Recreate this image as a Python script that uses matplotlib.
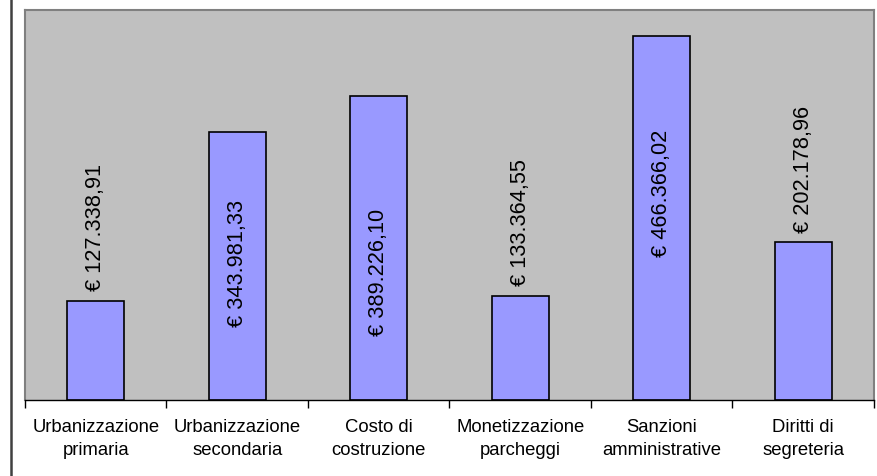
import matplotlib
matplotlib.use("Agg")
import matplotlib.pyplot as plt
from matplotlib.lines import Line2D

categories = ["Urbanizzazione\nprimaria", "Urbanizzazione\nsecondaria", "Costo di\ncostruzione",
              "Monetizzazione\nparcheggi", "Sanzioni\namministrative", "Diritti di\nsegreteria"]
values = [127338.91, 343981.33, 389226.10, 133364.55, 466366.02, 202178.96]
labels = ["€ 127.338,91", "€ 343.981,33", "€ 389.226,10", "€ 133.364,55", "€ 466.366,02", "€ 202.178,96"]
inside = [False, True, True, False, True, False]

plt.rcParams["font.family"] = ["Liberation Sans", "DejaVu Sans"]

fig = plt.figure(figsize=(8.78, 4.76), dpi=100)
ax = fig.add_axes([25 / 878, 1 - 400 / 476, 849 / 878, 390 / 476])
ax.set_facecolor("#C0C0C0")

x = list(range(len(values)))
ax.bar(x, values, width=0.4, color="#9999FF", edgecolor="black", linewidth=1.2, zorder=2)

# label centres for the ones drawn inside the bars
inside_y = {1: 175000, 2: 164000, 4: 265000}
for i, (v, lab) in enumerate(zip(values, labels)):
    if inside[i]:
        ax.text(i, inside_y[i], lab, rotation=90, ha="center", va="center",
                fontsize=15.7, zorder=3)
    else:
        ax.annotate(lab, (i, v), xytext=(0, 7), textcoords="offset points",
                    rotation=90, ha="center", va="bottom", fontsize=15.7, zorder=3)

ax.set_xlim(-0.5, len(values) - 0.5)
ax.set_ylim(0, 500000)
ax.set_yticks([])
ax.set_xticks(x)
ax.set_xticklabels(categories, fontsize=13.3, linespacing=1.45)
ax.tick_params(axis="x", which="major", length=0, pad=14)
ax.set_xticks([i - 0.5 for i in range(len(values) + 1)], minor=True)
ax.tick_params(axis="x", which="minor", length=6, width=1, color="black", direction="out")

for s in ["top", "right", "left"]:
    ax.spines[s].set_color("#808080")
    ax.spines[s].set_linewidth(1.5)
ax.spines["bottom"].set_color("black")
ax.spines["bottom"].set_linewidth(1)

fig.add_artist(Line2D([11 / 878, 11 / 878], [0, 1], color="#404040", linewidth=1.8))

fig.savefig("out.png", dpi=100)
